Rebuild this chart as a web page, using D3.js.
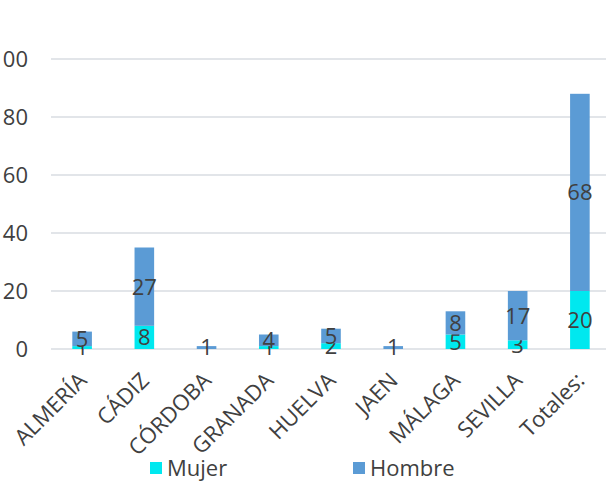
<!DOCTYPE html>
<html>
<head>
<meta charset="utf-8">
<script src="https://cdn.jsdelivr.net/npm/d3@7"></script>
<style>
  body { margin: 0; background: #fff; }
  text { font-family: "Open Sans", "Liberation Sans", sans-serif; fill: #404040; }
</style>
</head>
<body>
<div id="main"></div>
<script>
// categories and the two series (Mujer at bottom, Hombre stacked on top)
const provincias = ["ALMERÍA", "CÁDIZ", "CÓRDOBA", "GRANADA", "HUELVA", "JAEN", "MÁLAGA", "SEVILLA", "Totales:"];
const mujer  = [1, 8, 0, 1, 2, 0, 5, 3, 20];
const hombre = [5, 27, 1, 4, 5, 1, 8, 17, 68];
const yTicks = [0, 20, 40, 60, 80, 100];
const seriesNames = ["Mujer", "Hombre"];
const colors = {Mujer: "#00e8ef", Hombre: "#5b9bd5"};

const ctx = {width: 606, height: 484};

let svg = d3.select("#main").append("svg")
  .attr("width", ctx.width)
  .attr("height", ctx.height);

let x = d3.scaleBand().domain(provincias).range([51, 611]).paddingInner(0.685).paddingOuter(0.3425);
let y = d3.scaleLinear().domain([0, 100]).range([349, 59]);

// gridlines + y labels
svg.append("g").selectAll("line").data(yTicks).enter().append("line")
  .attr("x1", 51).attr("x2", 606)
  .attr("y1", d => y(d)).attr("y2", d => y(d))
  .attr("stroke", "#e2e5e9").attr("stroke-width", 2);

svg.append("g").selectAll("text").data(yTicks).enter().append("text")
  .attr("x", 28).attr("y", d => y(d)).attr("dy", "0.36em")
  .attr("text-anchor", "end").style("font-size", "22px")
  .text(d => d);

// stacked data
let rows = provincias.map((p, i) => ({p: p, Mujer: mujer[i], Hombre: hombre[i]}));
let stacked = d3.stack().keys(seriesNames)(rows);

let layers = svg.append("g").selectAll("g").data(stacked).enter().append("g")
  .attr("fill", d => colors[d.key]);

layers.selectAll("rect").data(d => d).enter().append("rect")
  .attr("x", d => x(d.data.p))
  .attr("width", x.bandwidth())
  .attr("y", d => y(d[1]))
  .attr("height", d => y(d[0]) - y(d[1]));

// value labels in the middle of each segment (skip zeros)
layers.selectAll("text").data(d => d.filter(s => s[1] - s[0] > 0)).enter().append("text")
  .attr("x", d => x(d.data.p) + x.bandwidth() / 2)
  .attr("y", d => y((d[0] + d[1]) / 2))
  .attr("dy", "0.36em")
  .attr("text-anchor", "middle").style("font-size", "22px")
  .text(d => d[1] - d[0]);

// rotated category labels
svg.append("g").selectAll("text").data(provincias).enter().append("text")
  .attr("transform", d => "translate(" + (x(d) + x.bandwidth() / 2 + 6) + ",382) rotate(-45)")
  .attr("text-anchor", "end").style("font-size", "22px")
  .text(d => d);

// legend
let legendX = [150, 353];
let legend = svg.append("g").selectAll("g").data(seriesNames).enter().append("g")
  .attr("transform", (d, i) => "translate(" + legendX[i] + ",462)");
legend.append("rect").attr("width", 12).attr("height", 12).attr("fill", d => colors[d]);
legend.append("text").attr("x", 17).attr("y", 6).attr("dy", "0.36em")
  .style("font-size", "22px").text(d => d);
</script>
</body>
</html>
